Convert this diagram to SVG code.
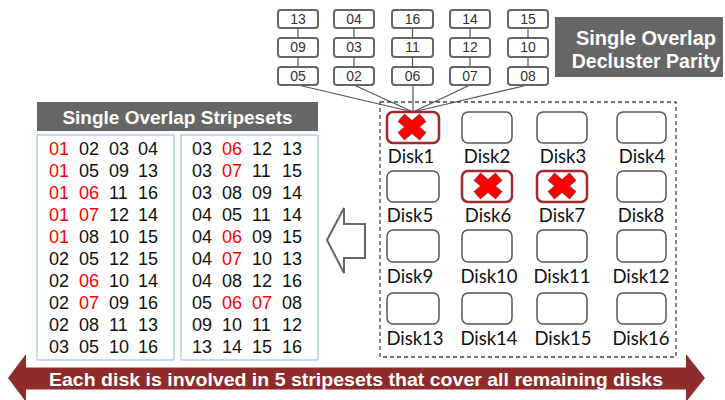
<svg xmlns="http://www.w3.org/2000/svg" width="725" height="400" viewBox="0 0 725 400">
  <style>
    .blk { fill: #fff; stroke: #666; stroke-width: 2; }
    .blk-t { font-family: "Liberation Sans", Arial, sans-serif; font-size: 14px; fill: #333; text-anchor: middle; }
    .disk { fill: #fff; stroke: #555; stroke-width: 1.5; }
    .disk-bad { fill: #fff; stroke: #9e2a2a; stroke-width: 2.5; }
    .disk-t { font-family: Lato, "Open Sans", sans-serif; font-size: 18.5px; fill: #111; text-anchor: middle; }
    .conn { stroke: #555; stroke-width: 1.2; fill: none; }
    .title { fill: #666; }
    .title-t { font-family: "Liberation Sans", Arial, sans-serif; font-weight: bold; fill: #fff; text-anchor: middle; }
    .panel { fill: #fff; stroke: #a9c5f0; stroke-width: 1.3; }
    .num { font-family: "Liberation Sans", Arial, sans-serif; font-size: 18px; fill: #111; }
    .num .r { fill: #f00; }
    .x-out { stroke: #a33; stroke-width: 10.5; }
    .x-in { stroke: #f00; stroke-width: 8.5; }
  </style>
  <defs>
    <!-- red cross marking a failed disk -->
    <g id="fail">
      <line class="x-out" x1="-11" y1="-9.5" x2="11" y2="9.5"/>
      <line class="x-out" x1="-11" y1="9.5" x2="11" y2="-9.5"/>
      <line class="x-in" x1="-10.4" y1="-9" x2="10.4" y2="9"/>
      <line class="x-in" x1="-10.4" y1="9" x2="10.4" y2="-9"/>
    </g>
  </defs>

  <!-- connectors: block chains and fan-in to Disk1 -->
  <g id="connectors">
    <line class="conn" x1="298" y1="28" x2="298" y2="38"/>
    <line class="conn" x1="298" y1="57" x2="298" y2="67"/>
    <line class="conn" x1="354" y1="28" x2="354" y2="38"/>
    <line class="conn" x1="354" y1="57" x2="354" y2="67"/>
    <line class="conn" x1="412.5" y1="28" x2="412.5" y2="38"/>
    <line class="conn" x1="412.5" y1="57" x2="412.5" y2="67"/>
    <line class="conn" x1="470" y1="28" x2="470" y2="38"/>
    <line class="conn" x1="470" y1="57" x2="470" y2="67"/>
    <line class="conn" x1="528" y1="28" x2="528" y2="38"/>
    <line class="conn" x1="528" y1="57" x2="528" y2="67"/>
    <line class="conn" x1="298" y1="85" x2="413" y2="112"/>
    <line class="conn" x1="354" y1="85" x2="413" y2="112"/>
    <line class="conn" x1="413" y1="85" x2="413" y2="112"/>
    <line class="conn" x1="470" y1="85" x2="413" y2="112"/>
    <line class="conn" x1="528" y1="85" x2="413" y2="112"/>
  </g>

  <!-- stripe blocks stored on Disk1 -->
  <g id="blocks">
    <g id="b13"><rect class="blk" x="278" y="10" width="40" height="18" rx="3"/><text class="blk-t" x="298" y="24">13</text></g>
    <g id="b09"><rect class="blk" x="278" y="38" width="40" height="19" rx="3"/><text class="blk-t" x="298" y="52">09</text></g>
    <g id="b05"><rect class="blk" x="278" y="67" width="40" height="18" rx="3"/><text class="blk-t" x="298" y="81">05</text></g>
    <g id="b04"><rect class="blk" x="334" y="10" width="40" height="18" rx="3"/><text class="blk-t" x="354" y="24">04</text></g>
    <g id="b03"><rect class="blk" x="334" y="38" width="40" height="19" rx="3"/><text class="blk-t" x="354" y="52">03</text></g>
    <g id="b02"><rect class="blk" x="334" y="67" width="40" height="18" rx="3"/><text class="blk-t" x="354" y="81">02</text></g>
    <g id="b16"><rect class="blk" x="392" y="10" width="41" height="18" rx="3"/><text class="blk-t" x="412.5" y="24">16</text></g>
    <g id="b11"><rect class="blk" x="392" y="38" width="41" height="19" rx="3"/><text class="blk-t" x="412.5" y="52">11</text></g>
    <g id="b06"><rect class="blk" x="392" y="67" width="41" height="18" rx="3"/><text class="blk-t" x="412.5" y="81">06</text></g>
    <g id="b14"><rect class="blk" x="450" y="10" width="40" height="18" rx="3"/><text class="blk-t" x="470" y="24">14</text></g>
    <g id="b12"><rect class="blk" x="450" y="38" width="40" height="19" rx="3"/><text class="blk-t" x="470" y="52">12</text></g>
    <g id="b07"><rect class="blk" x="450" y="67" width="40" height="18" rx="3"/><text class="blk-t" x="470" y="81">07</text></g>
    <g id="b15"><rect class="blk" x="508" y="10" width="40" height="18" rx="3"/><text class="blk-t" x="528" y="24">15</text></g>
    <g id="b10"><rect class="blk" x="508" y="38" width="40" height="19" rx="3"/><text class="blk-t" x="528" y="52">10</text></g>
    <g id="b08"><rect class="blk" x="508" y="67" width="40" height="18" rx="3"/><text class="blk-t" x="528" y="81">08</text></g>
  </g>

  <!-- title: parity layout -->
  <g id="title-parity">
    <rect class="title" x="555" y="17" width="168" height="60"/>
    <text class="title-t" x="646" y="45" font-size="20">Single Overlap</text>
    <text class="title-t" x="646" y="68" font-size="19.5">Decluster Parity</text>
  </g>

  <!-- disk array -->
  <g id="array">
    <rect x="380" y="102" width="296" height="255" fill="none" stroke="#444" stroke-width="1.3" stroke-dasharray="4 3"/>
  </g>
  <g id="disk1"><rect class="disk-bad" x="387" y="112" width="52" height="31" rx="6"/><use href="#fail" x="412" y="127"/><text class="disk-t" x="411" y="163">Disk1</text></g>
  <g id="disk2"><rect class="disk" x="462" y="112" width="50" height="31" rx="6"/><text class="disk-t" x="487" y="163">Disk2</text></g>
  <g id="disk3"><rect class="disk" x="537" y="112" width="50" height="31" rx="6"/><text class="disk-t" x="563" y="163">Disk3</text></g>
  <g id="disk4"><rect class="disk" x="617" y="112" width="49" height="31" rx="6"/><text class="disk-t" x="642" y="163">Disk4</text></g>
  <g id="disk5"><rect class="disk" x="387" y="171" width="52" height="31" rx="6"/><text class="disk-t" x="410" y="222">Disk5</text></g>
  <g id="disk6"><rect class="disk-bad" x="462" y="171" width="50" height="31" rx="6"/><use href="#fail" x="488" y="186"/><text class="disk-t" x="488" y="222">Disk6</text></g>
  <g id="disk7"><rect class="disk-bad" x="537" y="171" width="50" height="31" rx="6"/><use href="#fail" x="562" y="186"/><text class="disk-t" x="562" y="222">Disk7</text></g>
  <g id="disk8"><rect class="disk" x="617" y="171" width="49" height="31" rx="6"/><text class="disk-t" x="641" y="222">Disk8</text></g>
  <g id="disk9"><rect class="disk" x="387" y="230" width="52" height="32" rx="6"/><text class="disk-t" x="410" y="283">Disk9</text></g>
  <g id="disk10"><rect class="disk" x="462" y="230" width="50" height="32" rx="6"/><text class="disk-t" x="489" y="283">Disk10</text></g>
  <g id="disk11"><rect class="disk" x="537" y="230" width="50" height="32" rx="6"/><text class="disk-t" x="562" y="283">Disk11</text></g>
  <g id="disk12"><rect class="disk" x="617" y="230" width="49" height="32" rx="6"/><text class="disk-t" x="641" y="283">Disk12</text></g>
  <g id="disk13"><rect class="disk" x="387" y="293" width="52" height="31" rx="6"/><text class="disk-t" x="415" y="345">Disk13</text></g>
  <g id="disk14"><rect class="disk" x="462" y="293" width="50" height="31" rx="6"/><text class="disk-t" x="489" y="345">Disk14</text></g>
  <g id="disk15"><rect class="disk" x="537" y="293" width="50" height="31" rx="6"/><text class="disk-t" x="563" y="345">Disk15</text></g>
  <g id="disk16"><rect class="disk" x="617" y="293" width="49" height="31" rx="6"/><text class="disk-t" x="641" y="345">Disk16</text></g>

  <!-- hollow arrow toward the stripeset list -->
  <g id="derive-arrow">
    <polygon points="327,240 344,208 344,224 365,224 365,258 344,258 344,273" fill="#fff" stroke="#666" stroke-width="2" stroke-linejoin="miter"/>
  </g>

  <!-- title: stripesets -->
  <g id="title-stripesets">
    <rect class="title" x="37" y="102" width="281" height="29"/>
    <text class="title-t" x="177.5" y="123.5" font-size="19">Single Overlap Stripesets</text>
  </g>

  <!-- stripeset list, left column -->
  <g id="stripesets-a">
    <rect class="panel" x="37" y="135" width="137" height="225"/>
    <g class="num">
      <text y="155"><tspan class="r" x="49">01</tspan><tspan x="79">02</tspan><tspan x="109">03</tspan><tspan x="138">04</tspan></text>
      <text y="177"><tspan class="r" x="49">01</tspan><tspan x="79">05</tspan><tspan x="109">09</tspan><tspan x="138">13</tspan></text>
      <text y="199"><tspan class="r" x="49">01</tspan><tspan class="r" x="79">06</tspan><tspan x="109">11</tspan><tspan x="138">16</tspan></text>
      <text y="221"><tspan class="r" x="49">01</tspan><tspan class="r" x="79">07</tspan><tspan x="109">12</tspan><tspan x="138">14</tspan></text>
      <text y="243"><tspan class="r" x="49">01</tspan><tspan x="79">08</tspan><tspan x="109">10</tspan><tspan x="138">15</tspan></text>
      <text y="265"><tspan x="49">02</tspan><tspan x="79">05</tspan><tspan x="109">12</tspan><tspan x="138">15</tspan></text>
      <text y="287"><tspan x="49">02</tspan><tspan class="r" x="79">06</tspan><tspan x="109">10</tspan><tspan x="138">14</tspan></text>
      <text y="309"><tspan x="49">02</tspan><tspan class="r" x="79">07</tspan><tspan x="109">09</tspan><tspan x="138">16</tspan></text>
      <text y="331"><tspan x="49">02</tspan><tspan x="79">08</tspan><tspan x="109">11</tspan><tspan x="138">13</tspan></text>
      <text y="353"><tspan x="49">03</tspan><tspan x="79">05</tspan><tspan x="109">10</tspan><tspan x="138">16</tspan></text>
    </g>
  </g>

  <!-- stripeset list, right column -->
  <g id="stripesets-b">
    <rect class="panel" x="181" y="135" width="137" height="225"/>
    <g class="num">
      <text y="155"><tspan x="192">03</tspan><tspan class="r" x="222">06</tspan><tspan x="252">12</tspan><tspan x="282">13</tspan></text>
      <text y="177"><tspan x="192">03</tspan><tspan class="r" x="222">07</tspan><tspan x="252">11</tspan><tspan x="282">15</tspan></text>
      <text y="199"><tspan x="192">03</tspan><tspan x="222">08</tspan><tspan x="252">09</tspan><tspan x="282">14</tspan></text>
      <text y="221"><tspan x="192">04</tspan><tspan x="222">05</tspan><tspan x="252">11</tspan><tspan x="282">14</tspan></text>
      <text y="243"><tspan x="192">04</tspan><tspan class="r" x="222">06</tspan><tspan x="252">09</tspan><tspan x="282">15</tspan></text>
      <text y="265"><tspan x="192">04</tspan><tspan class="r" x="222">07</tspan><tspan x="252">10</tspan><tspan x="282">13</tspan></text>
      <text y="287"><tspan x="192">04</tspan><tspan x="222">08</tspan><tspan x="252">12</tspan><tspan x="282">16</tspan></text>
      <text y="309"><tspan x="192">05</tspan><tspan class="r" x="222">06</tspan><tspan class="r" x="252">07</tspan><tspan x="282">08</tspan></text>
      <text y="331"><tspan x="192">09</tspan><tspan x="222">10</tspan><tspan x="252">11</tspan><tspan x="282">12</tspan></text>
      <text y="353"><tspan x="192">13</tspan><tspan x="222">14</tspan><tspan x="252">15</tspan><tspan x="282">16</tspan></text>
    </g>
  </g>

  <!-- banner: double-headed arrow -->
  <g id="banner">
    <polygon points="8,378 26,354 26,367.5 686,367.5 686,354 705,378 686,402 686,389.5 26,389.5 26,402" fill="#902b2b"/>
    <text x="356" y="386" font-family="'Liberation Sans', Arial, sans-serif" font-weight="bold" font-size="19" fill="#fff" text-anchor="middle" textLength="614" lengthAdjust="spacingAndGlyphs">Each disk is involved in 5 stripesets that cover all remaining disks</text>
  </g>
</svg>
